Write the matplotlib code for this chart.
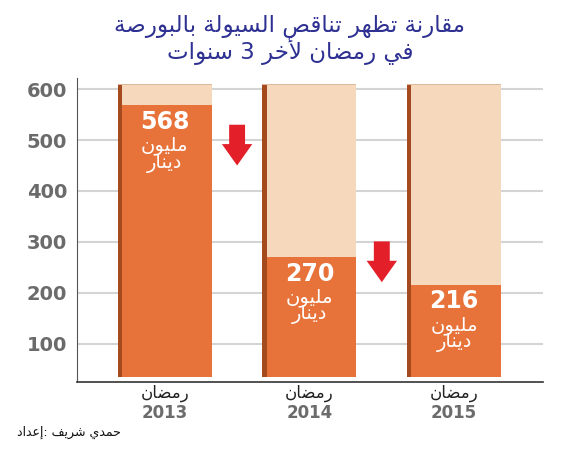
import numpy as np
import matplotlib.pyplot as plt
from matplotlib.patches import FancyArrow

# matplotlib does not join Arabic letters, so map them to presentation forms
_letters = "ءآأؤإئابةتثجحخدذرزسشصضطظعغفقكلمنهوىي"
_counts = [1, 2, 2, 2, 2, 4, 2, 4, 2, 4, 4, 4, 4, 4, 2, 2, 2, 2, 4, 4,
           4, 4, 4, 4, 4, 4, 4, 4, 4, 4, 4, 4, 4, 2, 2, 4]
_forms = {}
_code = 0xFE80
for ch, n in zip(_letters, _counts):
    _forms[ch] = (_code, n)
    _code += n
_lam_alef = {"آ": 0xFEF5, "أ": 0xFEF7, "إ": 0xFEF9, "ا": 0xFEFB}


def shape(text):
    res = []
    prev_joins = False
    i = 0
    while i < len(text):
        ch = text[i]
        if ch == "ل" and i + 1 < len(text) and text[i + 1] in _lam_alef:
            res.append(chr(_lam_alef[text[i + 1]] + (1 if prev_joins else 0)))
            prev_joins = False
            i += 2
            continue
        if ch in _forms:
            base, n = _forms[ch]
            nxt = text[i + 1] if i + 1 < len(text) else ""
            next_joins = n == 4 and nxt in _forms and _forms[nxt][1] > 1
            if prev_joins and next_joins:
                form = 3
            elif prev_joins:
                form = 1 if n > 1 else 0
            elif next_joins:
                form = 2
            else:
                form = 0
            res.append(chr(base + form))
            prev_joins = next_joins
        else:
            res.append(ch)
            prev_joins = False
        i += 1
    return "".join(res)[::-1]


# Data
years = ["2013", "2014", "2015"]
month_label = "رمضان"
liquidity = [568, 270, 216]          # مليون دينار
unit_lines = ["مليون", "دينار"]
y_ticks = [100, 200, 300, 400, 500, 600]
title_lines = ["مقارنة تظهر تناقص السيولة بالبورصة", "في رمضان لأخر 3 سنوات"]
credit_words = ["إعداد", "شريف", "حمدي"]

bar_top = 610
bar_bottom = 35

orange = "#e8733a"
peach = "#f6d9bd"
dark = "#a54a1f"
red = "#e3202a"

plt.rcParams['font.family'] = ['DejaVu Sans']

fig = plt.figure(figsize=(5.74, 4.5), dpi=100)
ax = fig.add_axes([0.134, 0.151, 0.812, 0.676])

x = np.arange(len(years))
w = 0.65
side = 0.03

for y in y_ticks:
    ax.axhline(y, color="#d4d4d4", lw=1.5, zorder=0)

ax.bar(x, bar_top - bar_bottom, width=w, bottom=bar_bottom, color=peach, zorder=2)
ax.bar(x, np.array(liquidity) - bar_bottom, width=w, bottom=bar_bottom, color=orange, zorder=3)
ax.bar(x - w / 2 + side / 2, bar_top - bar_bottom - 3, width=side, bottom=bar_bottom,
       color=dark, zorder=4)
ax.bar(x, 3, width=w, bottom=bar_top - 3, color="#dcb999", zorder=3)

for xi, v in zip(x, liquidity):
    ax.annotate(str(v), (xi, v), xytext=(0, -12), textcoords="offset points",
                ha="center", va="center", color="white", fontsize=17,
                fontweight="bold", zorder=5)
    for k, line in enumerate(unit_lines):
        ax.annotate(shape(line), (xi, v), xytext=(0, -29 - 12.5 * k),
                    textcoords="offset points", ha="center", va="center",
                    color="white", fontsize=14, zorder=5)

# Red arrows between the bars
for xm, top in [(0.5, 530), (1.5, 301)]:
    ax.add_patch(FancyArrow(xm, top, 0, -80, width=0.11, head_width=0.21,
                            head_length=42, length_includes_head=True,
                            color=red, lw=0, zorder=5))

ax.set_xlim(-0.607, 2.614)
ax.set_ylim(25, 622)
ax.set_yticks(y_ticks)
ax.set_yticklabels([str(t) for t in y_ticks], fontsize=14, fontweight="bold",
                   color="#6b6b6b")
ax.tick_params(axis="y", length=0, pad=7)
ax.set_xticks([])
for s in ["top", "right"]:
    ax.spines[s].set_visible(False)
ax.spines["left"].set_color("#555555")
ax.spines["bottom"].set_color("#333333")
ax.spines["bottom"].set_linewidth(1.2)

for xi, yr in zip(x, years):
    ax.annotate(shape(month_label), (xi, 25), xytext=(0, -8), textcoords="offset points",
                ha="center", va="center", fontsize=12, color="#222222",
                annotation_clip=False)
    ax.annotate(yr, (xi, 25), xytext=(0, -22), textcoords="offset points",
                ha="center", va="center", fontsize=12, fontweight="bold",
                color="#6b6b6b", annotation_clip=False)

fig.text(0.505, 1 - 26 / 450, shape(title_lines[0]), ha="center", va="center",
         fontsize=16.5, color="#2e3192")
fig.text(0.505, 1 - 51 / 450, shape(title_lines[1]), ha="center", va="center",
         fontsize=16.5, color="#2e3192")

credit = shape(credit_words[0]) + ": " + shape(credit_words[1]) + " " + shape(credit_words[2])
fig.text(17 / 574, 1 - 432 / 450, credit, ha="left", va="center", fontsize=9, color="#111111")

plt.savefig("out.png", dpi=100)
